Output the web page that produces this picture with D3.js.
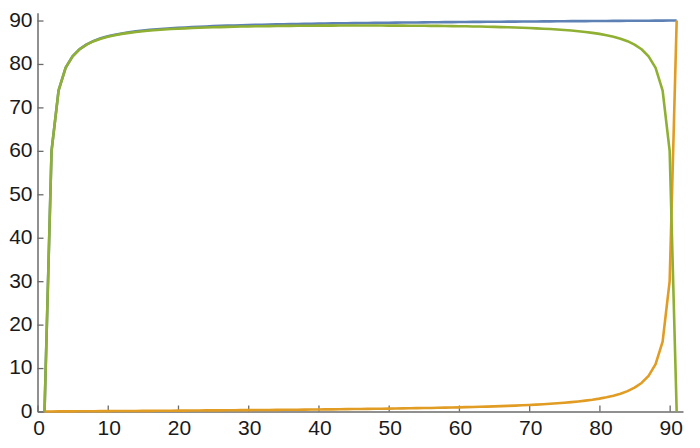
<!DOCTYPE html>
<html>
<head>
<meta charset="utf-8">
<script src="https://cdn.jsdelivr.net/npm/d3@7"></script>
<style>
  body { margin: 0; background: #fff; }
  svg { display: block; font-family: "Liberation Sans", Arial, sans-serif; }
</style>
</head>
<body>
<svg id="chart" width="700" height="448"></svg>
<script>
const steps = [
  1, 2, 3, 4, 5, 6, 7, 8, 9, 10, 11, 12, 13, 14, 15, 16, 17, 18, 19, 20,
  21, 22, 23, 24, 25, 26, 27, 28, 29, 30, 31, 32, 33, 34, 35, 36, 37, 38, 39, 40,
  41, 42, 43, 44, 45, 46, 47, 48, 49, 50, 51, 52, 53, 54, 55, 56, 57, 58, 59, 60,
  61, 62, 63, 64, 65, 66, 67, 68, 69, 70, 71, 72, 73, 74, 75, 76, 77, 78, 79, 80,
  81, 82, 83, 84, 85, 86, 87, 88, 89, 90, 91
];

const blueVals = [
  0, 60.00, 73.90, 79.12, 81.80, 83.43, 84.52, 85.31, 85.90, 86.36,
  86.73, 87.03, 87.29, 87.50, 87.69, 87.85, 87.99, 88.11, 88.22, 88.32,
  88.41, 88.50, 88.57, 88.64, 88.70, 88.76, 88.82, 88.87, 88.91, 88.96,
  89.00, 89.04, 89.08, 89.11, 89.14, 89.18, 89.21, 89.23, 89.26, 89.29,
  89.31, 89.34, 89.36, 89.38, 89.40, 89.42, 89.44, 89.46, 89.48, 89.50,
  89.52, 89.53, 89.55, 89.56, 89.58, 89.60, 89.61, 89.63, 89.64, 89.65,
  89.67, 89.68, 89.69, 89.71, 89.72, 89.73, 89.74, 89.75, 89.77, 89.78,
  89.79, 89.80, 89.81, 89.82, 89.83, 89.85, 89.86, 89.87, 89.88, 89.89,
  89.90, 89.91, 89.92, 89.93, 89.94, 89.95, 89.96, 89.97, 89.98, 89.99,
  90
];

const orangeVals = [
  0, 0.01, 0.02, 0.03, 0.04, 0.05, 0.06, 0.07, 0.08, 0.09,
  0.10, 0.11, 0.12, 0.13, 0.14, 0.15, 0.17, 0.18, 0.19, 0.20,
  0.21, 0.22, 0.23, 0.25, 0.26, 0.27, 0.28, 0.29, 0.31, 0.32,
  0.33, 0.35, 0.36, 0.37, 0.39, 0.40, 0.42, 0.44, 0.45, 0.47,
  0.48, 0.50, 0.52, 0.54, 0.56, 0.58, 0.60, 0.62, 0.64, 0.66,
  0.69, 0.71, 0.74, 0.77, 0.79, 0.82, 0.86, 0.89, 0.92, 0.96,
  1.00, 1.04, 1.09, 1.13, 1.18, 1.24, 1.30, 1.36, 1.43, 1.50,
  1.59, 1.68, 1.78, 1.89, 2.01, 2.15, 2.32, 2.50, 2.71, 2.97,
  3.27, 3.64, 4.10, 4.69, 5.48, 6.57, 8.20, 10.89, 16.10, 30.00,
  90
];

const greenVals = [
  0, 59.99, 73.88, 79.09, 81.76, 83.38, 84.46, 85.24, 85.82, 86.27,
  86.63, 86.92, 87.16, 87.37, 87.54, 87.69, 87.82, 87.94, 88.04, 88.12,
  88.20, 88.27, 88.34, 88.40, 88.45, 88.49, 88.54, 88.57, 88.61, 88.64,
  88.67, 88.69, 88.72, 88.74, 88.76, 88.77, 88.79, 88.80, 88.81, 88.82,
  88.83, 88.83, 88.84, 88.84, 88.85, 88.85, 88.85, 88.84, 88.84, 88.83,
  88.83, 88.82, 88.81, 88.80, 88.79, 88.77, 88.76, 88.74, 88.72, 88.69,
  88.67, 88.64, 88.61, 88.57, 88.54, 88.49, 88.45, 88.40, 88.34, 88.27,
  88.20, 88.12, 88.04, 87.94, 87.82, 87.69, 87.54, 87.37, 87.16, 86.92,
  86.63, 86.27, 85.82, 85.24, 84.46, 83.38, 81.76, 79.09, 73.88, 59.99,
  0
];

const xTicks = [0, 10, 20, 30, 40, 50, 60, 70, 80, 90];
const yTicks = [0, 10, 20, 30, 40, 50, 60, 70, 80, 90];

const series = [
  { name: "blue", values: blueVals, color: "#5e81b5" },
  { name: "orange", values: orangeVals, color: "#e19c24" },
  { name: "green", values: greenVals, color: "#8fb032" }
];

const svg = d3.select("#chart");

const x = d3.scaleLinear().domain([0, 91.9]).range([37.5, 683]);
const y = d3.scaleLinear().domain([0, 91.8]).range([411.5, 12.7]);

const axisColor = "#6b6b6b";

// x axis, ticks point up into the plot
const gx = svg.append("g")
  .attr("transform", `translate(0,${y(0)})`)
  .call(d3.axisBottom(x).tickValues(xTicks).tickSizeInner(-6).tickSizeOuter(0));

// y axis, ticks point right into the plot
const gy = svg.append("g")
  .attr("transform", `translate(${x(0)},0)`)
  .call(d3.axisLeft(y).tickValues(yTicks).tickSizeInner(-6).tickSizeOuter(0));

[gx, gy].forEach(g => {
  g.select(".domain").attr("stroke", axisColor).attr("stroke-width", 1.5);
  g.selectAll(".tick line").attr("stroke", axisColor).attr("stroke-width", 1.3);
  g.selectAll(".tick text")
    .attr("fill", "#1a1a1a")
    .style("font-size", "21px")
    .style("font-family", "'Liberation Sans', Arial, sans-serif");
});
gy.selectAll(".tick text").attr("x", -5).attr("dy", "0.28em");
gx.selectAll(".tick text").attr("x", 1).attr("y", 8.5).attr("dy", "0.71em");

const line = d3.line()
  .x((d, i) => x(steps[i]))
  .y(d => y(d));

svg.append("g")
  .selectAll("path")
  .data(series)
  .join("path")
  .attr("fill", "none")
  .attr("stroke", d => d.color)
  .attr("stroke-width", 2.6)
  .attr("stroke-linejoin", "round")
  .attr("d", d => line(d.values));
</script>
</body>
</html>
